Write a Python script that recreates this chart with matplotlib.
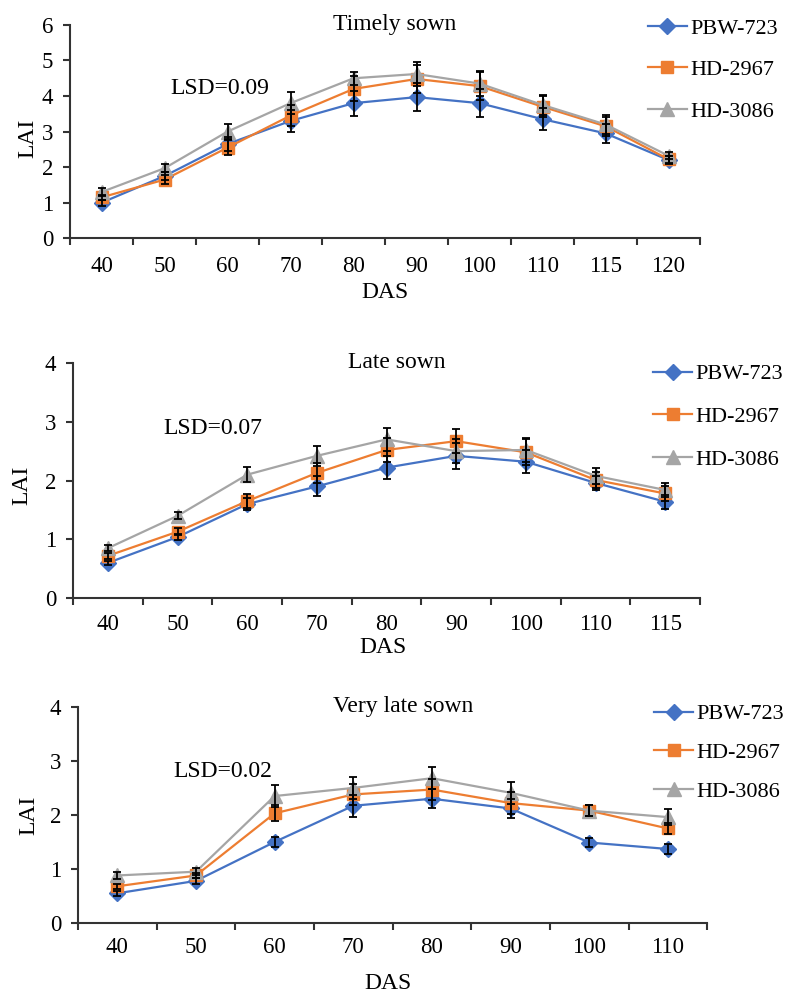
import matplotlib
matplotlib.use("Agg")
import matplotlib.pyplot as plt

# Dados (LAI por variedade)
VARIEDADES = ["PBW-723", "HD-2967", "HD-3086"]

das_timely = ["40", "50", "60", "70", "80", "90", "100", "110", "115", "120"]
pbw_timely = [1.00, 1.75, 2.65, 3.30, 3.80, 3.97, 3.80, 3.35, 2.95, 2.20]
hd2967_timely = [1.15, 1.65, 2.55, 3.45, 4.20, 4.48, 4.28, 3.70, 3.15, 2.22]
hd3086_timely = [1.30, 1.97, 3.00, 3.80, 4.50, 4.62, 4.35, 3.75, 3.20, 2.32]
err_pbw_timely = [0.08, 0.12, 0.20, 0.30, 0.35, 0.40, 0.40, 0.30, 0.27, 0.10]
err_2967_timely = [0.08, 0.12, 0.20, 0.30, 0.35, 0.40, 0.40, 0.30, 0.27, 0.10]
err_3086_timely = [0.10, 0.12, 0.20, 0.30, 0.18, 0.35, 0.35, 0.28, 0.26, 0.10]

das_late = ["40", "50", "60", "70", "80", "90", "100", "110", "115"]
pbw_late = [0.60, 1.04, 1.60, 1.90, 2.22, 2.42, 2.32, 1.96, 1.64]
hd2967_late = [0.72, 1.13, 1.65, 2.13, 2.52, 2.67, 2.48, 2.01, 1.78]
hd3086_late = [0.85, 1.40, 2.10, 2.42, 2.70, 2.50, 2.52, 2.08, 1.84]
err_pbw_late = [0.04, 0.05, 0.10, 0.17, 0.20, 0.22, 0.20, 0.12, 0.12]
err_2967_late = [0.05, 0.06, 0.12, 0.17, 0.20, 0.20, 0.22, 0.14, 0.12]
err_3086_late = [0.05, 0.06, 0.13, 0.17, 0.20, 0.20, 0.20, 0.14, 0.12]

das_vlate = ["40", "50", "60", "70", "80", "90", "100", "110"]
pbw_vlate = [0.55, 0.78, 1.50, 2.17, 2.30, 2.12, 1.49, 1.37]
hd2967_vlate = [0.68, 0.88, 2.03, 2.38, 2.47, 2.22, 2.08, 1.75]
hd3086_vlate = [0.88, 0.95, 2.35, 2.50, 2.68, 2.41, 2.08, 1.96]
err_pbw_vlate = [0.05, 0.05, 0.10, 0.20, 0.18, 0.18, 0.09, 0.10]
err_2967_vlate = [0.05, 0.05, 0.15, 0.20, 0.20, 0.20, 0.10, 0.10]
err_3086_vlate = [0.07, 0.06, 0.20, 0.20, 0.20, 0.20, 0.10, 0.15]

AZUL = "#4472C4"
LARANJA = "#ED7D31"
CINZA = "#A5A5A5"
CORES = [AZUL, LARANJA, CINZA]
MARCAS = ["D", "s", "^"]
TAM_MARCA = [8, 8.5, 9.5]

plt.rcParams["font.family"] = ["Liberation Serif", "DejaVu Serif"]

fig = plt.figure(figsize=(7.91, 9.97), dpi=100)

paineis = [
    dict(pos=[0.0885, 0.761, 0.7965, 0.214], das=das_timely,
         series=[pbw_timely, hd2967_timely, hd3086_timely],
         erros=[err_pbw_timely, err_2967_timely, err_3086_timely],
         ymax=6, titulo="Timely sown", lsd="LSD=0.09", lsd_xy=(0.159, 0.704),
         dasy=-0.207, dasx=0.50, laix=-0.051, laiy=0.47, xpad=13,
         leg=(0.819, 0.982), legsp=0.95),
    dict(pos=[0.0923, 0.400, 0.7927, 0.236], das=das_late,
         series=[pbw_late, hd2967_late, hd3086_late],
         erros=[err_pbw_late, err_2967_late, err_3086_late],
         ymax=4, titulo="Late sown", lsd="LSD=0.07", lsd_xy=(0.144, 0.723),
         dasy=-0.166, dasx=0.494, laix=-0.065, laiy=0.48, xpad=11.5,
         leg=(0.826, 0.635), legsp=1.0),
    dict(pos=[0.0986, 0.0742, 0.7954, 0.2168], das=das_vlate,
         series=[pbw_vlate, hd2967_vlate, hd3086_vlate],
         erros=[err_pbw_vlate, err_2967_vlate, err_3086_vlate],
         ymax=4, titulo="Very late sown", lsd="LSD=0.02", lsd_xy=(0.151, 0.70),
         dasy=-0.231, dasx=0.493, laix=-0.062, laiy=0.50, xpad=10,
         leg=(0.827, 0.294), legsp=0.82),
]

for p in paineis:
    ax = fig.add_axes(p["pos"])
    n = len(p["das"])
    x = list(range(n))
    linhas = []
    for serie, erro, cor, marca, tam, nome in zip(p["series"], p["erros"], CORES,
                                                   MARCAS, TAM_MARCA, VARIEDADES):
        ln, = ax.plot(x, serie, color=cor, marker=marca, markersize=tam,
                      linewidth=1.6, label=nome, zorder=2)
        ax.errorbar(x, serie, yerr=erro, fmt="none", ecolor="black",
                    elinewidth=1.3, capsize=3, capthick=1.3, zorder=3)
        linhas.append(ln)

    ax.set_xlim(-0.5, n - 0.5)
    ax.set_ylim(0, p["ymax"])
    ax.set_yticks(range(0, p["ymax"] + 1))
    # eixo de categorias: marcas entre categorias, rotulos no centro
    ax.set_xticks([i - 0.5 for i in range(n + 1)])
    ax.set_xticklabels([])
    ax.set_xticks(x, minor=True)
    ax.set_xticklabels(p["das"], minor=True)
    ax.tick_params(axis="x", which="major", direction="out", length=5,
                   width=1.5, color="#333333")
    ax.tick_params(axis="x", which="minor", length=0, pad=p["xpad"], labelsize=16.5)
    ax.tick_params(axis="y", direction="out", length=5, width=1.5,
                   color="#333333", labelsize=16.5, pad=7)

    ax.spines[["top", "right"]].set_visible(False)
    for lado in ["left", "bottom"]:
        ax.spines[lado].set_linewidth(1.5)
        ax.spines[lado].set_color("#333333")

    ax.set_xlabel("DAS", fontsize=17)
    ax.xaxis.set_label_coords(p["dasx"], p["dasy"])
    ax.set_ylabel("LAI", fontsize=17)
    ax.yaxis.set_label_coords(p["laix"], p["laiy"])

    ax.text(0.516, 1.0, p["titulo"], transform=ax.transAxes, ha="center",
            va="center", fontsize=17)
    ax.text(p["lsd_xy"][0], p["lsd_xy"][1], p["lsd"], transform=ax.transAxes,
            ha="left", va="center", fontsize=17)

    fig.legend(handles=linhas, loc="upper left", bbox_to_anchor=p["leg"],
               bbox_transform=fig.transFigure, frameon=False, fontsize=16,
               handlelength=1.75, handletextpad=0.15, labelspacing=p["legsp"],
               borderpad=0, borderaxespad=0)

fig.savefig("out.png", dpi=100)
